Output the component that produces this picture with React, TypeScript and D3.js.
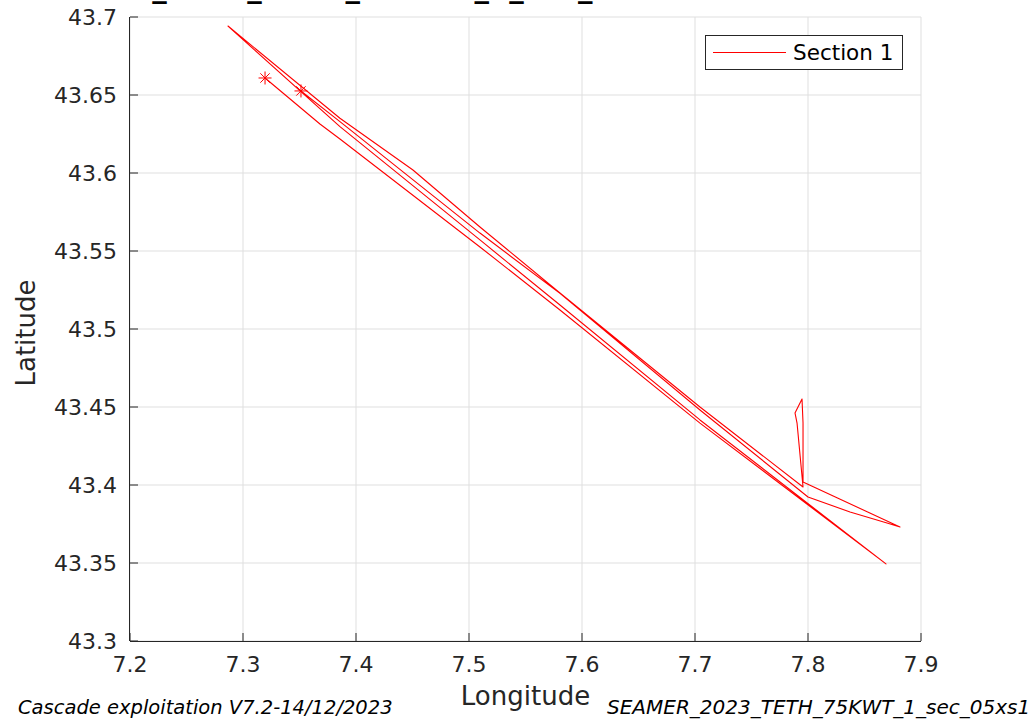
import React from "react";
import * as d3 from "d3";

const lonTicks = [7.2, 7.3, 7.4, 7.5, 7.6, 7.7, 7.8, 7.9];
const latTicks = [43.3, 43.35, 43.4, 43.45, 43.5, 43.55, 43.6, 43.65, 43.7];

const trackLon = [
  7.3195, 7.3681, 7.3858, 7.5097, 7.5805, 7.7044, 7.869,
  7.7044, 7.5805, 7.5097, 7.3858, 7.2867,
  7.3858, 7.4504, 7.5097, 7.5805, 7.7044, 7.7956,
  7.7903, 7.7885, 7.7947, 7.7956, 7.7956,
  7.8814, 7.8699, 7.8372, 7.8,
  7.7044, 7.5805, 7.5097, 7.3858, 7.3513,
];
const trackLat = [
  43.6609, 43.6314, 43.6218, 43.5526, 43.5122, 43.4397, 43.3494,
  43.4417, 43.5154, 43.5571, 43.6297, 43.6942,
  43.6351, 43.6019, 43.5654, 43.5231, 43.45, 43.3987,
  43.4397, 43.4462, 43.4551, 43.4397, 43.4019,
  43.3731, 43.3756, 43.3827, 43.3923,
  43.4481, 43.5228, 43.5615, 43.6329, 43.6526,
];

const starLon = [7.3195, 7.3513];
const starLat = [43.6609, 43.6526];

const legendLabel = "Section 1";
const titleText = "SEAMER_2023_TETH_75KWT_1_sec_05xs1";
const footLeft = "Cascade exploitation V7.2-14/12/2023";
const footRight = "SEAMER_2023_TETH_75KWT_1_sec_05xs1";

const W = 1035;
const H = 722;
const L = 130, R = 921, T = 17, B = 641;
const FONT = "'DejaVu Sans', sans-serif";
const AX = "#262626";

export default function App() {
  const x = d3.scaleLinear().domain([7.2, 7.9]).range([L, R]);
  const y = d3.scaleLinear().domain([43.3, 43.7]).range([B, T]);
  const pts: [number, number][] = trackLon.map((lo, i) => [lo, trackLat[i]]);
  const line = d3.line<[number, number]>().x((d) => x(d[0])).y((d) => y(d[1]));
  const r = 6.5;
  const rd = r * 0.72;

  return (
    <svg width={W} height={H} style={{ position: "absolute", left: 0, top: 0, background: "#fff" }} fontFamily={FONT}>
      <rect x={0} y={0} width={W} height={H} fill="#fff" />
      {/* title, mostly clipped */}
      <text x={18} y={-3} fontSize={29} fontWeight="bold" fill="#000">{titleText}</text>
      {/* grid */}
      {lonTicks.map((t) => (
        <line key={"gx" + t} x1={x(t)} x2={x(t)} y1={T} y2={B} stroke="#dfdfdf" strokeWidth={1} />
      ))}
      {latTicks.map((t) => (
        <line key={"gy" + t} x1={L} x2={R} y1={y(t)} y2={y(t)} stroke="#dfdfdf" strokeWidth={1} />
      ))}
      {/* track */}
      <path d={line(pts) || ""} fill="none" stroke="#ff0000" strokeWidth={1.1} strokeLinejoin="round" />
      {starLon.map((lo, i) => {
        const cx = x(lo), cy = y(starLat[i]);
        return (
          <g key={"s" + i} stroke="#ff0000" strokeWidth={1}>
            <line x1={cx - r} x2={cx + r} y1={cy} y2={cy} />
            <line x1={cx} x2={cx} y1={cy - r} y2={cy + r} />
            <line x1={cx - rd} x2={cx + rd} y1={cy - rd} y2={cy + rd} />
            <line x1={cx - rd} x2={cx + rd} y1={cy + rd} y2={cy - rd} />
          </g>
        );
      })}
      {/* axes */}
      <line x1={L} x2={R} y1={B + 0.5} y2={B + 0.5} stroke={AX} strokeWidth={1} />
      <line x1={L - 0.5} x2={L - 0.5} y1={T} y2={B} stroke={AX} strokeWidth={1} />
      {lonTicks.map((t) => (
        <g key={"tx" + t}>
          <line x1={x(t)} x2={x(t)} y1={B} y2={B - 8} stroke={AX} strokeWidth={1} />
          <text x={x(t)} y={672} fontSize={22} textAnchor="middle" fill={AX}>{d3.format("")(t)}</text>
        </g>
      ))}
      {latTicks.map((t) => (
        <g key={"ty" + t}>
          <line x1={L} x2={L + 8} y1={y(t)} y2={y(t)} stroke={AX} strokeWidth={1} />
          <text x={117} y={y(t)} fontSize={22} textAnchor="end" dominantBaseline="central" fill={AX}>{d3.format("")(t)}</text>
        </g>
      ))}
      {/* axis labels */}
      <text x={(L + R) / 2} y={705} fontSize={26} textAnchor="middle" fill={AX}>Longitude</text>
      <text transform={`translate(35, 333) rotate(-90)`} fontSize={26} textAnchor="middle" fill={AX}>Latitude</text>
      {/* legend */}
      <rect x={705.5} y={35.5} width={197} height={34} fill="#fff" stroke={AX} strokeWidth={1} />
      <line x1={713} x2={786} y1={52.5} y2={52.5} stroke="#ff0000" strokeWidth={1} />
      <text x={793} y={52.5} fontSize={21.5} dominantBaseline="central" fill="#000">{legendLabel}</text>
      {/* footers */}
      <text x={18} y={714} fontSize={19.5} fontStyle="italic" fill="#000">{footLeft}</text>
      <text x={607} y={714} fontSize={20} fontStyle="italic" fill="#000">{footRight}</text>
    </svg>
  );
}
